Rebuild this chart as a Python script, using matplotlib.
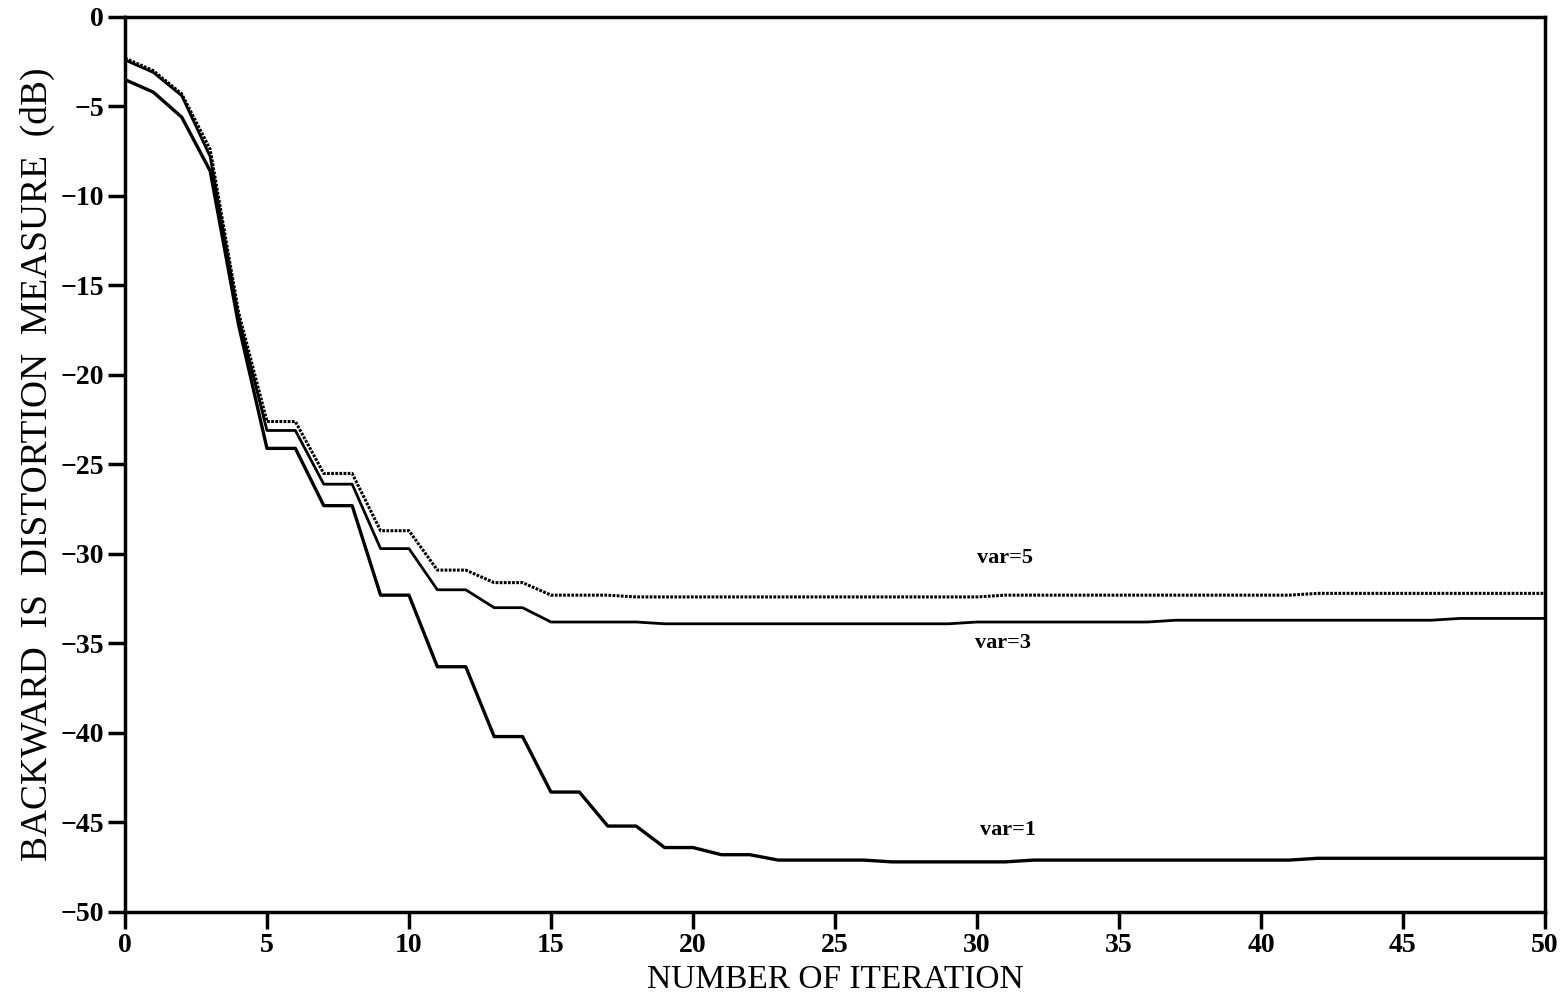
import numpy as np
import matplotlib
matplotlib.use("Agg")
import matplotlib.pyplot as plt

# iteration index and the backward IS distortion (dB) for each noise variance
iters = np.arange(0, 51)

var5 = [-2.3, -3.0, -4.3, -7.4, -16.5, -22.6, -22.6, -25.5, -25.5, -28.7,
        -28.7, -30.9, -30.9, -31.6, -31.6, -32.3, -32.3, -32.3, -32.4, -32.4,
        -32.4, -32.4, -32.4, -32.4, -32.4, -32.4, -32.4, -32.4, -32.4, -32.4,
        -32.4, -32.3, -32.3, -32.3, -32.3, -32.3, -32.3, -32.3, -32.3, -32.3,
        -32.3, -32.3, -32.2, -32.2, -32.2, -32.2, -32.2, -32.2, -32.2, -32.2,
        -32.2]
var3 = [-2.4, -3.1, -4.4, -7.8, -16.8, -23.1, -23.1, -26.1, -26.1, -29.7,
        -29.7, -32.0, -32.0, -33.0, -33.0, -33.8, -33.8, -33.8, -33.8, -33.9,
        -33.9, -33.9, -33.9, -33.9, -33.9, -33.9, -33.9, -33.9, -33.9, -33.9,
        -33.8, -33.8, -33.8, -33.8, -33.8, -33.8, -33.8, -33.7, -33.7, -33.7,
        -33.7, -33.7, -33.7, -33.7, -33.7, -33.7, -33.7, -33.6, -33.6, -33.6,
        -33.6]
var1 = [-3.5, -4.2, -5.6, -8.6, -17.2, -24.1, -24.1, -27.3, -27.3, -32.3,
        -32.3, -36.3, -36.3, -40.2, -40.2, -43.3, -43.3, -45.2, -45.2, -46.4,
        -46.4, -46.8, -46.8, -47.1, -47.1, -47.1, -47.1, -47.2, -47.2, -47.2,
        -47.2, -47.2, -47.1, -47.1, -47.1, -47.1, -47.1, -47.1, -47.1, -47.1,
        -47.1, -47.1, -47.0, -47.0, -47.0, -47.0, -47.0, -47.0, -47.0, -47.0,
        -47.0]

labels = ["var=5", "var=3", "var=1"]
label_pos = [(31.0, -30.2), (30.9, -35.0), (31.1, -45.4)]

plt.rcParams["font.family"] = ["Liberation Serif", "DejaVu Serif"]

fig = plt.figure(figsize=(15.68, 9.99), dpi=100)
ax = fig.add_axes([0.0797, 0.0871, 0.9056, 0.8959])

ax.plot(iters, var5, color="black", lw=2.2, linestyle=(0, (0.9, 0.45)))
ax.plot(iters, var3, color="black", lw=2.0)
ax.plot(iters, var1, color="black", lw=2.4)

for txt, (lx, ly) in zip(labels, label_pos):
    ax.text(lx, ly, txt, fontsize=16, fontweight="bold", ha="center", va="center")

ax.set_xlim(0, 50)
ax.set_ylim(-50, 0)
ax.set_xticks(range(0, 51, 5))
ax.set_yticks(range(-50, 1, 5))
ax.set_yticklabels(["\u2212%d" % -v if v < 0 else "0" for v in range(-50, 1, 5)])

for s in ax.spines.values():
    s.set_linewidth(2.5)
ax.tick_params(direction="out", length=12, width=2.5, labelsize=20,
               top=False, right=False, pad=3)
for lab in ax.get_xticklabels() + ax.get_yticklabels():
    lab.set_fontweight("bold")

ax.set_xlabel("NUMBER OF ITERATION", fontsize=24, labelpad=5)
ax.set_ylabel("BACKWARD  IS  DISTORTION  MEASURE  (dB)", fontsize=27, labelpad=4)

fig.savefig("out.png", dpi=100, facecolor="white")
